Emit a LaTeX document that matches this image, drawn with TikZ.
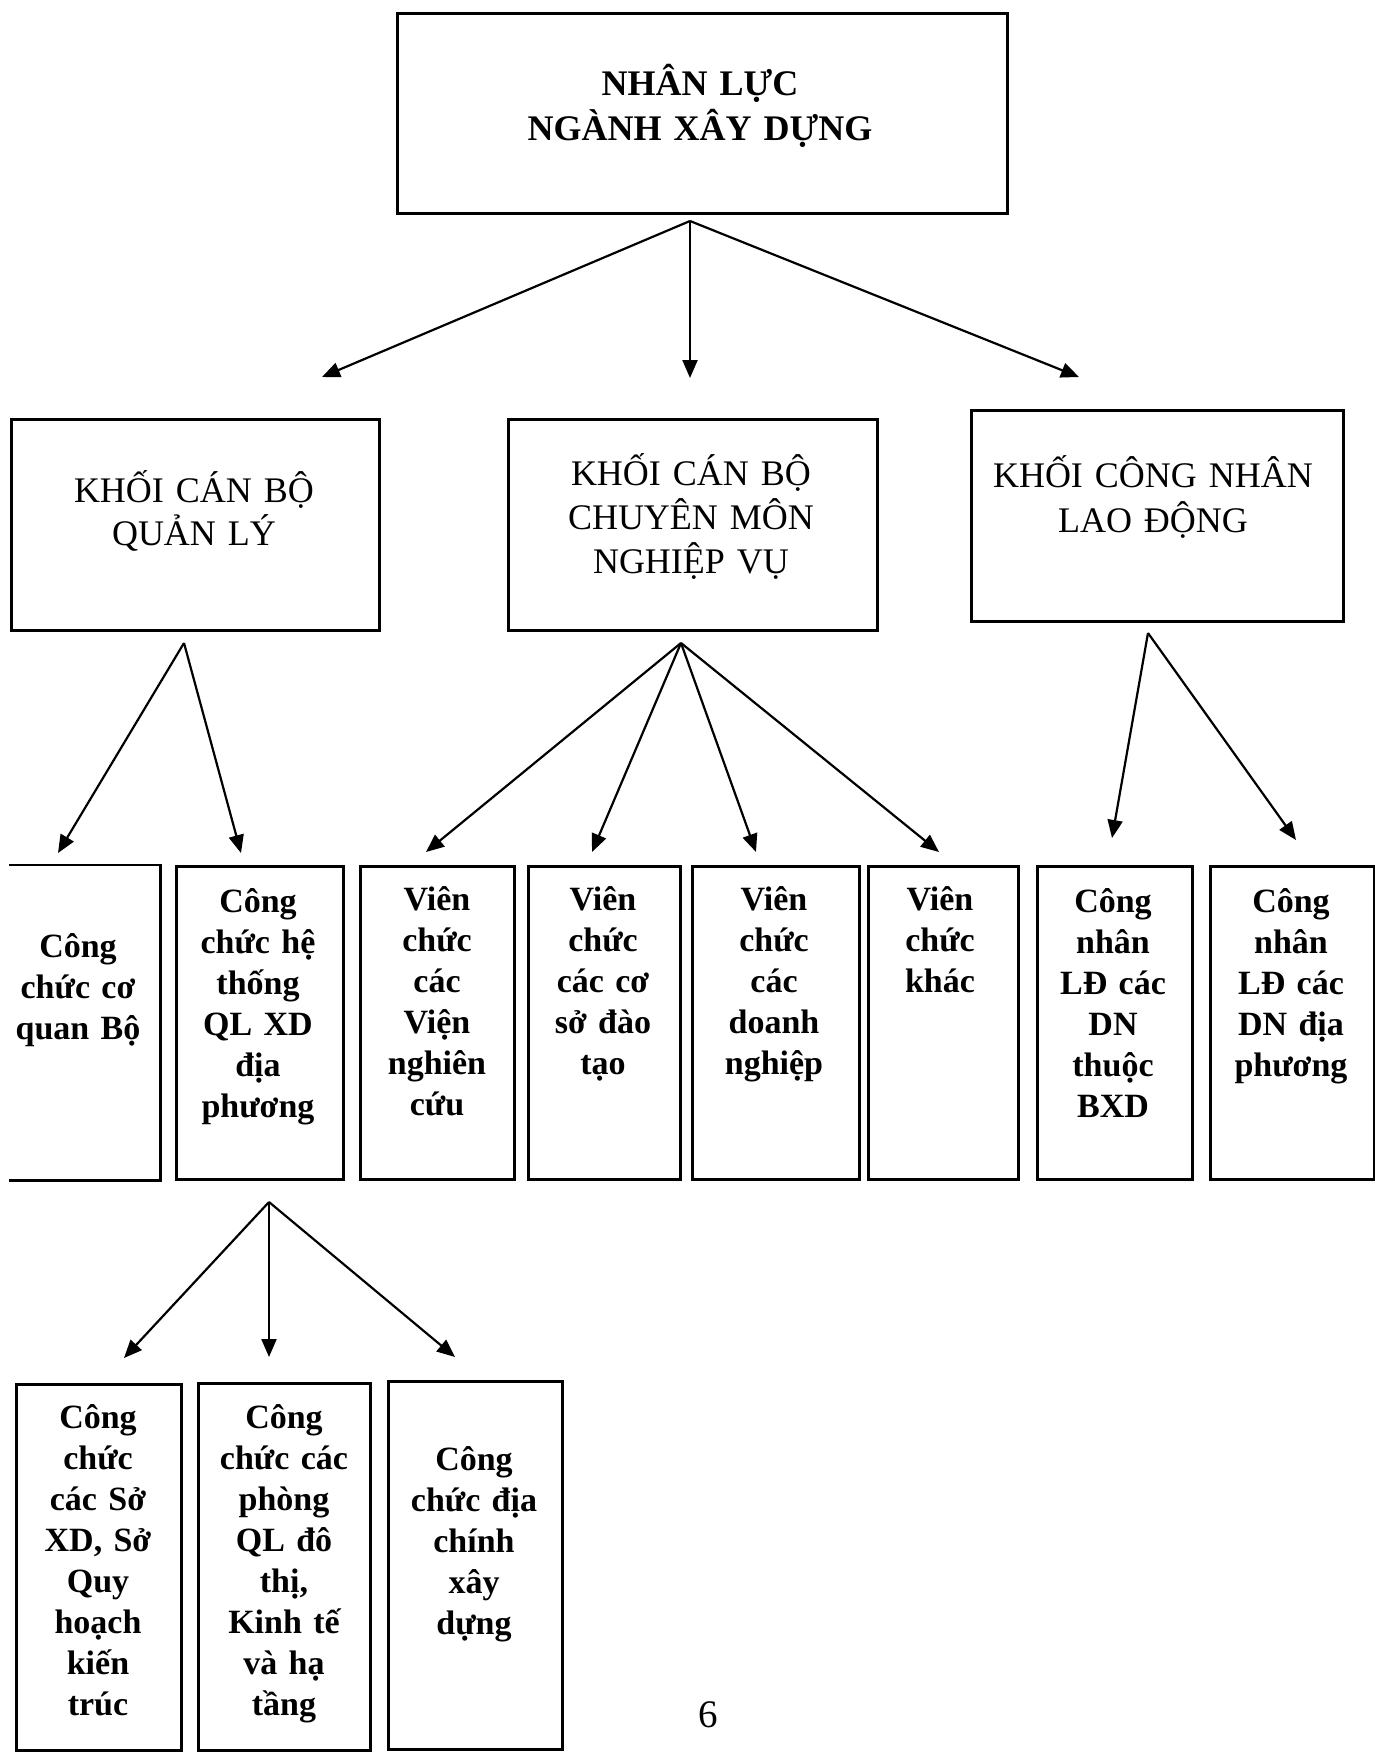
\documentclass[tikz,border=0pt]{standalone}
\usepackage{fontspec}
\setmainfont{Liberation Serif}
\usetikzlibrary{arrows.meta}

\begin{document}
\begin{tikzpicture}[x=0.5pt,y=-0.5pt,
        khung/.style={draw,line width=1.3pt,inner sep=0pt,anchor=north west},
        chu/.style={anchor=base,inner sep=0pt,align=center,text width=200pt},
        chudam/.style={anchor=base,inner sep=0pt,align=center,text width=100pt,
            font=\bfseries\fontsize{17}{20.5}\selectfont},
        muiten/.style={line width=1.1pt,-{Triangle[length=9pt,width=7.5pt]}}]
    \useasboundingbox (0,0) rectangle (1375,1753);

    % Nhan luc nganh xay dung
    \node[khung,minimum width=305pt,minimum height=100pt] (goc) at (396,12) {};
    \node[chu,font=\bfseries\fontsize{18}{22.5}\selectfont] (goc-t) at (700,95) {NHÂN LỰC\\NGÀNH XÂY DỰNG};

    % Ba khoi
    \node[khung,minimum width=184pt,minimum height=105.5pt] (ql) at (10,418) {};
    \node[chu,font=\fontsize{18}{21.5}\selectfont] (ql-t) at (194,502) {KHỐI CÁN BỘ\\QUẢN LÝ};
    \node[khung,minimum width=184.5pt,minimum height=105.5pt] (cm) at (507,418) {};
    \node[chu,font=\fontsize{18}{22}\selectfont] (cm-t) at (691,485) {KHỐI CÁN BỘ\\CHUYÊN MÔN\\NGHIỆP VỤ};
    \node[khung,minimum width=186pt,minimum height=105.5pt] (cn) at (970,409) {};
    \node[chu,font=\fontsize{18}{22.5}\selectfont] (cn-t) at (1153,487) {KHỐI CÔNG NHÂN\\LAO ĐỘNG};

    % Khoi can bo quan ly
    \node[khung,draw=none,minimum width=74.5pt,minimum height=156.5pt] (b1) at (9,865) {};
    \draw[line width=1.3pt] (b1.north west) -- (b1.north east) -- (b1.south east) -- (b1.south west);
    \node[chudam] (b1-t) at (78,957) {Công\\chức cơ\\quan Bộ};
    \node[khung,minimum width=83.5pt,minimum height=156.5pt] (b2) at (175,865) {};
    \node[chudam] (b2-t) at (258,912) {Công\\chức hệ\\thống\\QL XD\\địa\\phương};

    % Khoi can bo chuyen mon nghiep vu
    \node[khung,minimum width=77pt,minimum height=156.5pt] (b3) at (359,865) {};
    \node[chudam] (b3-t) at (437,910) {Viên\\chức\\các\\Viện\\nghiên\\cứu};
    \node[khung,minimum width=76pt,minimum height=156.5pt] (b4) at (527,865) {};
    \node[chudam] (b4-t) at (603,910) {Viên\\chức\\các cơ\\sở đào\\tạo};
    \node[khung,minimum width=83.5pt,minimum height=156.5pt] (b5) at (691,865) {};
    \node[chudam] (b5-t) at (774,910) {Viên\\chức\\các\\doanh\\nghiệp};
    \node[khung,minimum width=75pt,minimum height=156.5pt] (b6) at (867,865) {};
    \node[chudam] (b6-t) at (940,910) {Viên\\chức\\khác};

    % Khoi cong nhan lao dong
    \node[khung,minimum width=77.5pt,minimum height=156.5pt] (b7) at (1036,865) {};
    \node[chudam] (b7-t) at (1113,912) {Công\\nhân\\LĐ các\\DN\\thuộc\\BXD};
    \node[khung,minimum width=82pt,minimum height=156.5pt] (b8) at (1209,865) {};
    \node[chudam] (b8-t) at (1291,912) {Công\\nhân\\LĐ các\\DN địa\\phương};

    % Cong chuc he thong QL XD dia phuong
    \node[khung,minimum width=82.5pt,minimum height=183pt] (c1) at (15,1383) {};
    \node[chudam] (c1-t) at (98,1428) {Công\\chức\\các Sở\\XD, Sở\\Quy\\hoạch\\kiến\\trúc};
    \node[khung,minimum width=86pt,minimum height=183.5pt] (c2) at (197,1382) {};
    \node[chudam] (c2-t) at (284,1428) {Công\\chức các\\phòng\\QL đô\\thị,\\Kinh tế\\và hạ\\tầng};
    \node[khung,minimum width=87pt,minimum height=184pt] (c3) at (387,1380) {};
    \node[chudam] (c3-t) at (474,1470) {Công\\chức địa\\chính\\xây\\dựng};

    \node[chu,font=\fontsize{19.5}{22}\selectfont] (so) at (708,1727) {6};

    % dau va cuoi cac mui ten
    \coordinate (goc-ra) at (690,221);
    \coordinate (ql-vao) at (322,377);
    \coordinate (cm-vao) at (690,378);
    \coordinate (cn-vao) at (1079,377);
    \coordinate (ql-ra) at (184,643);
    \coordinate (cm-ra) at (681,643);
    \coordinate (cn-ra) at (1148,633);
    \coordinate (b1-vao) at (58,853);
    \coordinate (b2-vao) at (241,853);
    \coordinate (b3-vao) at (426,852);
    \coordinate (b4-vao) at (592,852);
    \coordinate (b5-vao) at (756,852);
    \coordinate (b6-vao) at (939,852);
    \coordinate (b7-vao) at (1112,838);
    \coordinate (b8-vao) at (1296,840);
    \coordinate (b2-ra) at (269,1202);
    \coordinate (c1-vao) at (124,1358);
    \coordinate (c2-vao) at (269,1357);
    \coordinate (c3-vao) at (455,1357);

    \draw[muiten] (goc-ra) -- (ql-vao);
    \draw[muiten] (goc-ra) -- (cm-vao);
    \draw[muiten] (goc-ra) -- (cn-vao);
    \draw[muiten] (ql-ra) -- (b1-vao);
    \draw[muiten] (ql-ra) -- (b2-vao);
    \draw[muiten] (cm-ra) -- (b3-vao);
    \draw[muiten] (cm-ra) -- (b4-vao);
    \draw[muiten] (cm-ra) -- (b5-vao);
    \draw[muiten] (cm-ra) -- (b6-vao);
    \draw[muiten] (cn-ra) -- (b7-vao);
    \draw[muiten] (cn-ra) -- (b8-vao);
    \draw[muiten] (b2-ra) -- (c1-vao);
    \draw[muiten] (b2-ra) -- (c2-vao);
    \draw[muiten] (b2-ra) -- (c3-vao);
\end{tikzpicture}
\end{document}
